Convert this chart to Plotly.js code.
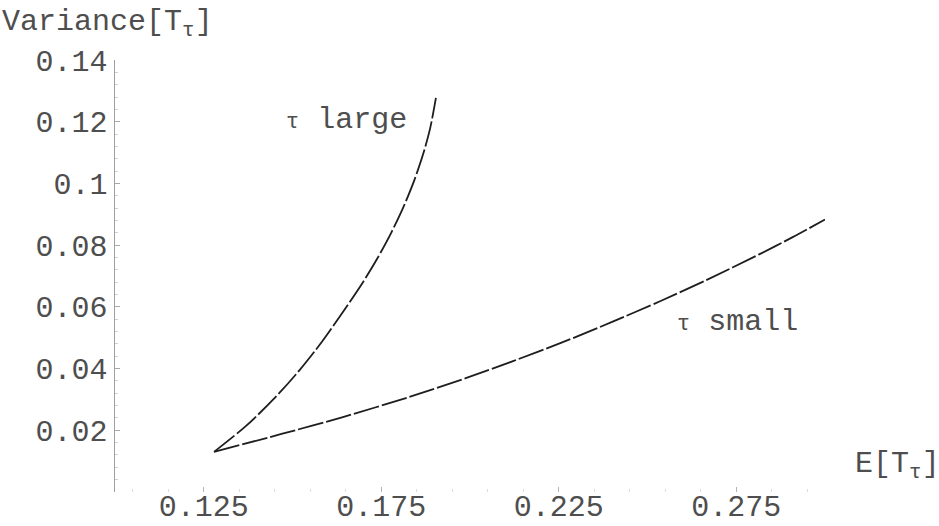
<!DOCTYPE html>
<html>
<head>
<meta charset="utf-8">
<script src="https://cdn.plot.ly/plotly-3.0.1.min.js"></script>
<style>
  html, body { margin: 0; padding: 0; background: #fff; }
  #chart { width: 939px; height: 526px; }
</style>
</head>
<body>
<div id="chart"></div>
<script>
// Mean / variance trade-off of T_tau, one branch for large tau, one for small tau
const largeTauMean = [0.1279, 0.1370, 0.1450, 0.1520, 0.1585, 0.1643, 0.1693, 0.1738, 0.1778, 0.1813, 0.1843, 0.1868, 0.1888, 0.1904];
const largeTauVar  = [0.0130, 0.0215, 0.0305, 0.0395, 0.0490, 0.0585, 0.0670, 0.0755, 0.0840, 0.0925, 0.1010, 0.1095, 0.1180, 0.1277];

const smallTauMean = [0.1279, 0.1469, 0.1642, 0.1829, 0.1988, 0.2123, 0.2256, 0.2402, 0.2537, 0.2670, 0.2816, 0.2909, 0.3000];
const smallTauVar  = [0.0130, 0.0188, 0.0243, 0.0308, 0.0369, 0.0425, 0.0483, 0.0552, 0.0619, 0.0689, 0.0771, 0.0826, 0.0883];

const xTickVals = [0.125, 0.175, 0.225, 0.275];
const xTickText = ['0.125', '0.175', '0.225', '0.275'];
const yTickVals = [0.02, 0.04, 0.06, 0.08, 0.10, 0.12, 0.14];
const yTickText = ['0.02', '0.04', '0.06', '0.08', '0.1', '0.12', '0.14'];

const monoFont = { family: 'Liberation Mono, DejaVu Sans Mono, monospace', size: 30, color: '#4e4e4e' };
const curveLine = { color: '#1e1e1e', width: 1.8, shape: 'spline', smoothing: 0.8, dash: '26px,3px' };

const traces = [
  { x: largeTauMean, y: largeTauVar, type: 'scatter', mode: 'lines', line: curveLine, hoverinfo: 'skip' },
  { x: smallTauMean, y: smallTauVar, type: 'scatter', mode: 'lines', line: curveLine, hoverinfo: 'skip' }
];

const layout = {
  width: 939,
  height: 526,
  margin: { l: 115, r: 114, t: 60, b: 34 },
  paper_bgcolor: '#ffffff',
  plot_bgcolor: '#ffffff',
  showlegend: false,
  font: monoFont,
  xaxis: {
    range: [0.1, 0.3],
    showgrid: false,
    zeroline: false,
    showline: false,
    ticks: 'inside',
    ticklen: 5,
    tickwidth: 1,
    tickcolor: '#b4b4b4',
    tickvals: xTickVals,
    ticktext: xTickText,
    tickfont: monoFont,
    ticklabelstandoff: -7,
    minor: { ticks: 'inside', ticklen: 3, tickcolor: '#dcdcdc', dtick: 0.01, tick0: 0.105 }
  },
  yaxis: {
    range: [0, 0.14],
    showgrid: false,
    zeroline: false,
    showline: true,
    linecolor: '#a0a0a0',
    linewidth: 1.5,
    ticks: 'inside',
    ticklen: 5,
    tickwidth: 1,
    tickcolor: '#a8a8a8',
    tickvals: yTickVals,
    ticktext: yTickText,
    tickfont: monoFont,
    minor: { ticks: 'inside', ticklen: 3, tickcolor: '#d0d0d0', dtick: 0.004, tick0: 0 }
  },
  annotations: [
    {
      xref: 'paper', yref: 'paper', x: 0, y: 1,
      xanchor: 'left', yanchor: 'middle', xshift: -115, yshift: 37,
      showarrow: false, font: monoFont,
      text: 'Variance[T<sub>τ</sub>]'
    },
    {
      xref: 'paper', yref: 'paper', x: 1, y: 0,
      xanchor: 'left', yanchor: 'middle', xshift: 28, yshift: 27,
      showarrow: false, font: monoFont,
      text: 'E[T<sub>τ</sub>]'
    },
    {
      xref: 'x', yref: 'y', x: 0.1651, y: 0.1206,
      xanchor: 'center', yanchor: 'middle',
      showarrow: false, font: monoFont,
      text: '<span style="font-size:22px">τ</span> large'
    },
    {
      xref: 'x', yref: 'y', x: 0.2754, y: 0.0550,
      xanchor: 'center', yanchor: 'middle',
      showarrow: false, font: monoFont,
      text: '<span style="font-size:22px">τ</span> small'
    }
  ]
};

Plotly.newPlot('chart', traces, layout, { staticPlot: true, displayModeBar: false });
</script>
</body>
</html>
